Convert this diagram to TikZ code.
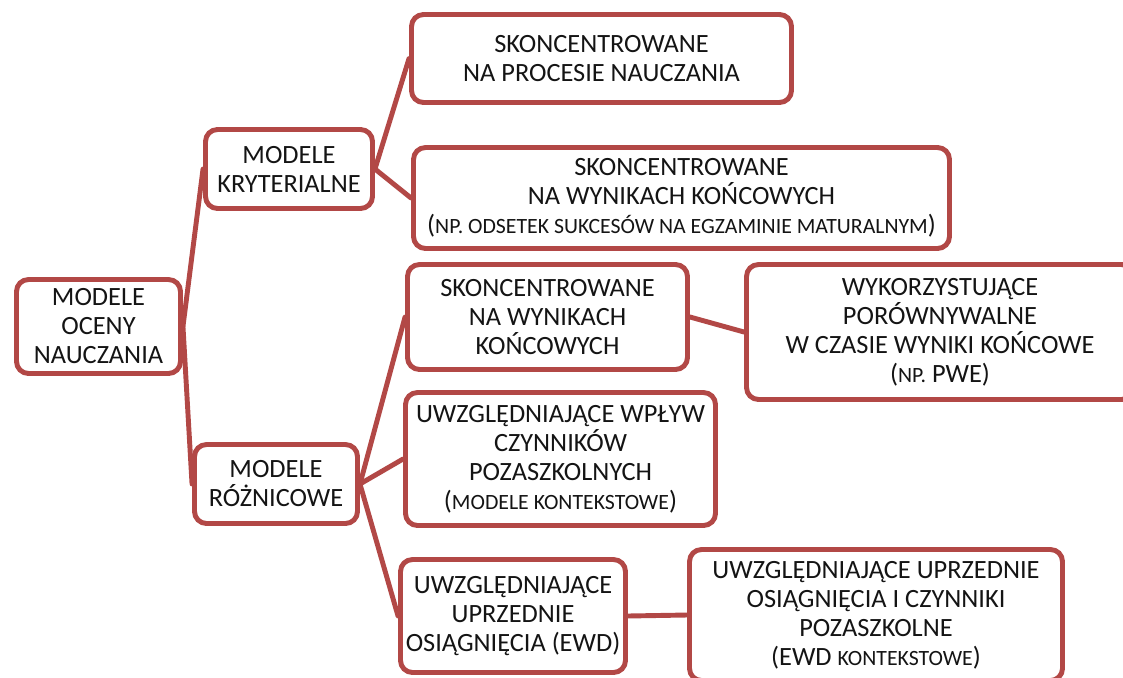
\documentclass[tikz,border=0pt]{standalone}
\usepackage{fontspec}
\setmainfont{Carlito}
\definecolor{boxred}{RGB}{178,72,70}
\definecolor{txt}{RGB}{20,20,20}
\newcommand{\smcap}[1]{{\fontsize{12.4}{16.5}\selectfont #1}}
\begin{document}
\begin{tikzpicture}[x=0.02cm,y=-0.02cm,
  box/.style={draw=boxred, line width=2.8pt, rounded corners=0.24cm, fill=white,
    align=center, inner sep=2pt, text=txt,
    font=\fontsize{15}{16.5}\selectfont},
  conn/.style={draw=boxred, line width=2.8pt, line cap=round}]
\useasboundingbox (0,0) rectangle (1123,677);
\node[box, minimum width=164*0.02cm, minimum height=94*0.02cm] (root) at (98.5,326.5) {MODELE\\OCENY\\NAUCZANIA};
\node[box, minimum width=167*0.02cm, minimum height=79*0.02cm] (kryt) at (289,169) {MODELE\\KRYTERIALNE};
\node[box, minimum width=163*0.02cm, minimum height=79*0.02cm] (rozn) at (276,484) {MODELE\\RÓŻNICOWE};
\node[box, minimum width=380*0.02cm, minimum height=88*0.02cm] (a) at (601.5,58.5) {SKONCENTROWANE\\NA PROCESIE NAUCZANIA};
\node[box, minimum width=536*0.02cm, minimum height=101*0.02cm] (b) at (681.5,198) {SKONCENTROWANE\\NA WYNIKACH KOŃCOWYCH\\(\smcap{NP. ODSETEK SUKCESÓW NA EGZAMINIE MATURALNYM})};
\node[box, minimum width=280*0.02cm, minimum height=105*0.02cm] (c) at (547.5,317) {SKONCENTROWANE\\NA WYNIKACH\\KOŃCOWYCH};
\node[box, minimum width=387*0.02cm, minimum height=135*0.02cm] (d) at (940,332) {WYKORZYSTUJĄCE\\PORÓWNYWALNE\\W CZASIE WYNIKI KOŃCOWE\\(\smcap{NP.} PWE)};
\node[box, minimum width=310*0.02cm, minimum height=133*0.02cm] (e) at (560.5,459) {UWZGLĘDNIAJĄCE WPŁYW\\CZYNNIKÓW\\POZASZKOLNYCH\\(\smcap{MODELE KONTEKSTOWE})};
\node[box, minimum width=225*0.02cm, minimum height=113*0.02cm] (f) at (513,616) {UWZGLĘDNIAJĄCE\\UPRZEDNIE\\OSIĄGNIĘCIA (EWD)};
\node[box, minimum width=373*0.02cm, minimum height=131*0.02cm] (g) at (876,615) {UWZGLĘDNIAJĄCE UPRZEDNIE\\OSIĄGNIĘCIA I CZYNNIKI\\POZASZKOLNE\\(EWD \smcap{KONTEKSTOWE})};
\draw[conn] (root.east) -- (kryt.west);
\draw[conn] (root.east) -- (rozn.west);
\draw[conn] (kryt.east) -- (a.west);
\draw[conn] (kryt.east) -- (b.west);
\draw[conn] (rozn.east) -- (c.west);
\draw[conn] (rozn.east) -- (e.west);
\draw[conn] (rozn.east) -- (f.west);
\draw[conn] (c.east) -- (d.west);
\draw[conn] (f.east) -- (g.west);
\end{tikzpicture}
\end{document}
